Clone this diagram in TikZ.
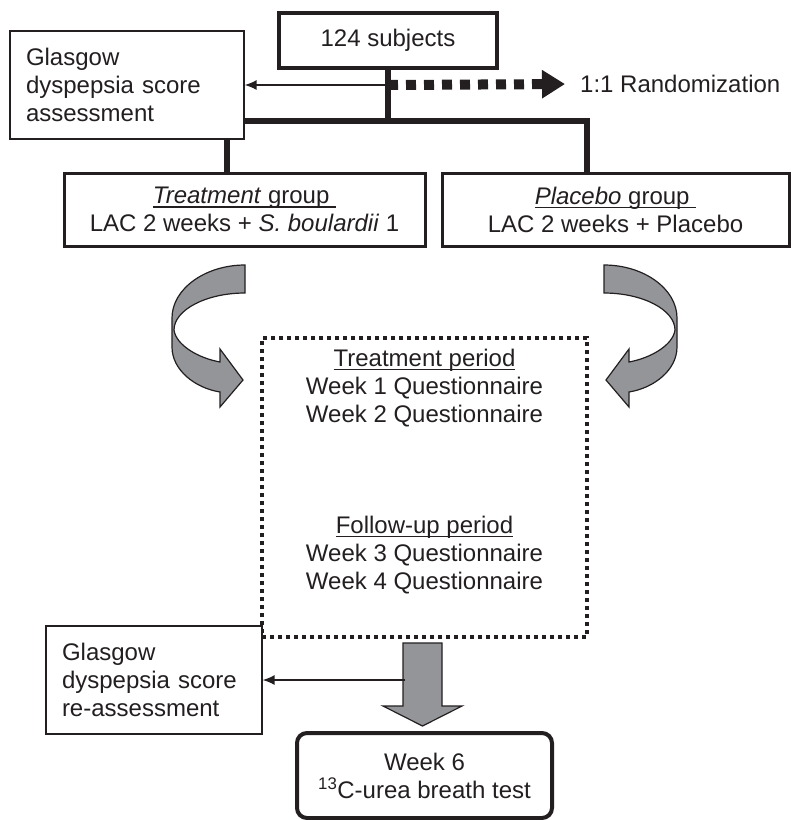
\documentclass[tikz,border=0pt]{standalone}
\usepackage{fontspec}
\setmainfont{Liberation Sans}
\usetikzlibrary{arrows.meta, positioning, backgrounds}
\definecolor{ink}{RGB}{35,31,32}
\definecolor{ribbongrey}{RGB}{148,149,153}
\newcommand{\ulined}[1]{\setbox0=\hbox{#1}\rlap{\rule[-4pt]{\wd0}{1.3pt}}\box0}

\begin{document}
\begin{tikzpicture}[
    x=1pt, y=-1pt,
    every node/.style={text=ink, font=\fontsize{24}{28}\selectfont},
    box/.style={draw=ink, rectangle, line width=3pt, minimum height=73pt, align=center},
    notebox/.style={draw=ink, rectangle, line width=1.2pt, fill=white, align=left, inner xsep=16pt, minimum height=108pt},
    link/.style={draw=ink, line width=5.5pt},
    pointer/.style={draw=ink, line width=1.5pt, -{Latex[length=12pt, width=10pt]}},
    randarrow/.style={draw=ink, line width=10pt, dash pattern=on 10pt off 8pt, -{Triangle[length=23pt, width=27pt]}},
    ribbon/.style={draw=ink, line width=1.2pt, fill=ribbongrey},
    bentarrow/.pic={
        \path[ribbon] (245,265) .. controls (205,265) and (172,289) .. (172,318)
            -- (172,347) .. controls (172,370) and (195,388) .. (220,392)
            -- (220,407) -- (243,380) -- (220,349) -- (220,362)
            .. controls (198,358) and (176,345) .. (174,330)
            .. controls (174,310) and (206,293) .. (245,293) -- cycle;
    }
]
\useasboundingbox (0,0) rectangle (791,820);

% Nodes
\node[box, line width=3.5pt, minimum width=218pt, minimum height=55pt] (subj) at (388,40.5) {124 subjects};
\node[notebox, text width=202pt] (glas1) at (127,85) {Glasgow\\dyspepsia score\\assessment};
\node[anchor=west, inner sep=8pt] (rand) at (572,84) {1:1 Randomization};
\node[box, minimum width=361pt] (treat) at (244.5,209.5) {\ulined{\textit{Treatment} group\ }\\LAC 2 weeks + \textit{S. boulardii} 1};
\node[box, minimum width=347pt] (plac) at (615.5,209.5) {\ulined{\textit{Placebo} group\ }\\LAC 2 weeks + Placebo};
\node[draw=ink, line width=4pt, dash pattern=on 4pt off 4pt, minimum width=325pt, minimum height=299pt] (period) at (424.5,487.5) {};
\node[align=center] (trtper) at (424.5,388) {\ulined{Treatment period}\\Week 1 Questionnaire\\Week 2 Questionnaire};
\node[align=center] (fupper) at (424.5,555) {\ulined{Follow-up period}\\Week 3 Questionnaire\\Week 4 Questionnaire};
\node[notebox, text width=184pt] (glas2) at (154,680) {Glasgow\\dyspepsia score\\re-assessment};
\node[draw=ink, line width=4pt, rounded corners=10pt, minimum width=255pt, minimum height=85pt, align=center] (week6) at (424.5,775.5) {Week 6\\\textsuperscript{13}C-urea breath test};

\coordinate (split) at (388,121);
\coordinate (ask) at (388,85);
\coordinate (rea) at (405,680);

% Connections
\begin{scope}[on background layer]
\draw[link] (subj.south) -- (split);
\draw[link] ([xshift=-17.5pt]treat.north) |- (split) -| ([xshift=-28.5pt]plac.north);
\end{scope}
\draw[pointer] (ask) -- (ask -| glas1.east);
\draw[randarrow, shorten >=7pt] (ask) -- (rand.west);

% Ribbon arrows
\pic at (0,0) {bentarrow};
\pic[xscale=-1] at (849,0) {bentarrow};

\draw[ribbon] (403,643) -- (403,706) -- (383,706) -- (422.5,726) -- (462,706) -- (442,706) -- (442,643) -- cycle;
\draw[pointer] (rea) -- (rea -| glas2.east);

\end{tikzpicture}
\end{document}
